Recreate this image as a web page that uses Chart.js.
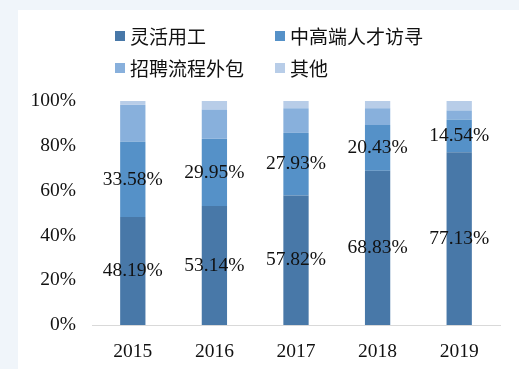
<!DOCTYPE html>
<html>
<head>
<meta charset="utf-8">
<script src="https://cdn.jsdelivr.net/npm/chart.js@4.4.1/dist/chart.umd.min.js"></script>
<style>
    html, body { margin: 0; padding: 0; }
    body { width: 519px; height: 369px; background: #f0f5fa; position: relative; overflow: hidden; }
    #panel { position: absolute; left: 18px; top: 10px; right: 0; bottom: 0; background: #ffffff; }
    #wrap { position: absolute; left: 0; top: 0; width: 519px; height: 369px; }
    #legend { position: absolute; left: 0; top: 0; font-family: "Noto Sans CJK SC", sans-serif; font-size: 19px; color: #111; }
    .item { position: absolute; white-space: nowrap; line-height: 20px; }
    .box { position: absolute; width: 10px; height: 10px; left: 0; top: 5px; }
    .txt { position: absolute; left: 15px; top: 0; }
</style>
</head>
<body>
<div id="panel"></div>
<div id="wrap"><canvas id="myChart" width="519" height="369"></canvas></div>
<div id="legend"></div>
<script>
// 年份
const years = ['2015', '2016', '2017', '2018', '2019'];

const labels = [
    '灵活用工',
    '中高端人才访寻',
    '招聘流程外包',
    '其他'
];

// 各业务占比 (%)
const flexible = [48.19, 53.14, 57.82, 68.83, 77.13];
const headhunt = [33.58, 29.95, 27.93, 20.43, 14.54];
const rpo = [16.6, 13.1, 11.0, 7.5, 4.1];
const others = [1.63, 3.81, 3.25, 3.24, 4.23];

const yTicks = [0, 20, 40, 60, 80, 100];

const colors = [
    '#4878a8',
    '#5591c8',
    '#88b0dc',
    '#b8cde8'
];

const series = [flexible, headhunt, rpo, others];

// 图例
const legendPos = [[115, 26], [275, 26], [115, 58], [275, 58]];
const legend = document.getElementById('legend');
for (let i = 0; i < labels.length; i++) {
    const item = document.createElement('div');
    item.className = 'item';
    item.style.left = legendPos[i][0] + 'px';
    item.style.top = legendPos[i][1] + 'px';
    item.innerHTML = '<span class="box" style="background:' + colors[i] + '"></span><span class="txt">' + labels[i] + '</span>';
    legend.appendChild(item);
}

const serif = 'Liberation Serif, Times New Roman, serif';

// 柱内数值标签
const valueLabels = {
    id: 'valueLabels',
    afterDatasetsDraw(chart) {
        const ctx = chart.ctx;
        ctx.save();
        ctx.font = '19.5px ' + serif;
        ctx.fillStyle = '#111';
        ctx.textAlign = 'center';
        ctx.textBaseline = 'middle';
        [0, 1].forEach(function (di) {
            const meta = chart.getDatasetMeta(di);
            meta.data.forEach(function (bar, j) {
                const v = chart.data.datasets[di].data[j];
                const y = (bar.y + bar.base) / 2;
                ctx.fillText(v.toFixed(2) + '%', bar.x, y);
            });
        });
        ctx.restore();
    }
};

const data = {
    labels: years,
    datasets: series.map(function (s, i) {
        return {
            label: labels[i],
            data: s,
            backgroundColor: colors[i],
            borderWidth: 0,
            barPercentage: 0.31,
            categoryPercentage: 1
        };
    })
};

const config = {
    type: 'bar',
    data: data,
    options: {
        responsive: false,
        animation: false,
        layout: { padding: { top: 101, left: 31, right: 19, bottom: 0 } },
        plugins: {
            legend: { display: false },
            tooltip: { enabled: false }
        },
        scales: {
            x: {
                stacked: true,
                grid: { display: false, drawTicks: false },
                border: { display: true, color: '#d9d9d9', width: 1 },
                ticks: { color: '#111', padding: 15, font: { family: serif, size: 19.5 } },
                afterFit: function (axis) { axis.height = 44; }
            },
            y: {
                stacked: true,
                min: 0,
                max: 100,
                grid: { display: false, drawTicks: false },
                border: { display: false },
                afterBuildTicks: function (axis) {
                    axis.ticks = yTicks.map(function (v) { return { value: v }; });
                },
                ticks: {
                    color: '#111',
                    padding: 16,
                    font: { family: serif, size: 19.5 },
                    callback: function (v) { return v + '%'; }
                },
                afterFit: function (axis) { axis.width = 61; }
            }
        }
    },
    plugins: [valueLabels]
};

var myChart = new Chart(document.getElementById('myChart'), config);
</script>
</body>
</html>
